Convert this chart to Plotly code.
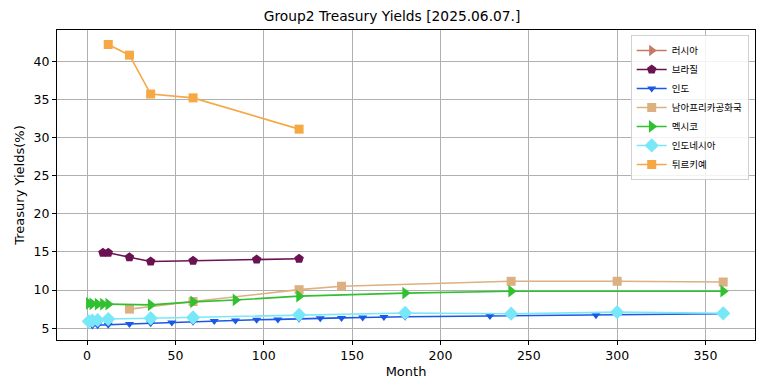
import plotly.graph_objects as go

title = "Group2 Treasury Yields [2025.06.07.]"

russia_months = []
russia_yields = []

brazil_months = [9, 12, 24, 36, 60, 96, 120]
brazil_yields = [14.9, 14.9, 14.3, 13.75, 13.85, 14.0, 14.1]

india_months = [3, 6, 12, 24, 36, 48, 60, 72, 84, 96, 108, 120, 132, 144, 156, 168, 180, 228, 288, 360]
india_yields = [5.35, 5.4, 5.45, 5.55, 5.65, 5.75, 5.85, 5.95, 6.0, 6.1, 6.15, 6.25, 6.3, 6.35, 6.4, 6.45, 6.5, 6.6, 6.7, 6.9]

safrica_months = [24, 60, 120, 144, 240, 300, 360]
safrica_yields = [7.5, 8.5, 10.05, 10.5, 11.15, 11.15, 11.05]

mexico_months = [1, 3, 6, 9, 12, 36, 60, 84, 120, 180, 240, 360]
mexico_yields = [8.25, 8.2, 8.15, 8.15, 8.15, 8.05, 8.45, 8.7, 9.2, 9.6, 9.85, 9.85]

indonesia_months = [1, 3, 6, 12, 36, 60, 120, 180, 240, 300, 360]
indonesia_yields = [5.9, 6.0, 6.05, 6.2, 6.3, 6.4, 6.75, 7.0, 6.9, 7.1, 6.95]

turkey_months = [12, 24, 36, 60, 120]
turkey_yields = [42.2, 40.8, 35.7, 35.2, 31.1]

series = [
    ("러시아", russia_months, russia_yields, "#c47a64", "triangle-right", 10),
    ("브라질", brazil_months, brazil_yields, "#6b1252", "pentagon", 10),
    ("인도", india_months, india_yields, "#1a58e8", "triangle-down", 8),
    ("남아프리카공화국", safrica_months, safrica_yields, "#dcb080", "square", 9),
    ("멕시코", mexico_months, mexico_yields, "#30c030", "triangle-right", 11),
    ("인도네시아", indonesia_months, indonesia_yields, "#78e8f8", "diamond", 11),
    ("튀르키예", turkey_months, turkey_yields, "#f5a844", "square", 9),
]

fig = go.Figure()
for name, xs, ys, color, sym, size in series:
    fig.add_trace(go.Scatter(
        x=xs if xs else [None], y=ys if ys else [None],
        name=name, mode="lines+markers",
        line=dict(color=color, width=1.6),
        marker=dict(symbol=sym, size=size, color=color, line=dict(width=0)),
    ))

axis_common = dict(
    showgrid=True, gridcolor="#b0b0b0", gridwidth=0.8,
    showline=True, linecolor="black", linewidth=1, mirror=True,
    ticks="outside", ticklen=4, tickcolor="black",
    zeroline=False, automargin=False,
    tickfont=dict(family="DejaVu Sans", size=12.5, color="black"),
)

fig.update_layout(
    width=756, height=383,
    paper_bgcolor="white", plot_bgcolor="white",
    margin=dict(l=49, r=9, t=22, b=51, autoexpand=False),
    title=dict(text=title, x=0.508, xanchor="center", y=0.978, yanchor="middle",
               font=dict(family="DejaVu Sans", size=13.8, color="black")),
    xaxis=dict(range=[-17, 378], tickvals=[0, 50, 100, 150, 200, 250, 300, 350],
               title=dict(text="Month", font=dict(family="DejaVu Sans", size=13, color="black"), standoff=4),
               **axis_common),
    yaxis=dict(range=[3.45, 44.1], tickvals=[5, 10, 15, 20, 25, 30, 35, 40],
               title=dict(text="Treasury Yields(%)", font=dict(family="DejaVu Sans", size=13, color="black"), standoff=6),
               **axis_common),
    legend=dict(x=0.991, xanchor="right", y=0.984, yanchor="top",
                bgcolor="rgba(255,255,255,0.85)", bordercolor="#d0d0d0", borderwidth=1,
                font=dict(family="Noto Sans CJK KR", size=9.5, color="black"),
                tracegroupgap=0, itemsizing="trace", itemwidth=30),
    showlegend=True,
)

fig.write_html("out.html")
